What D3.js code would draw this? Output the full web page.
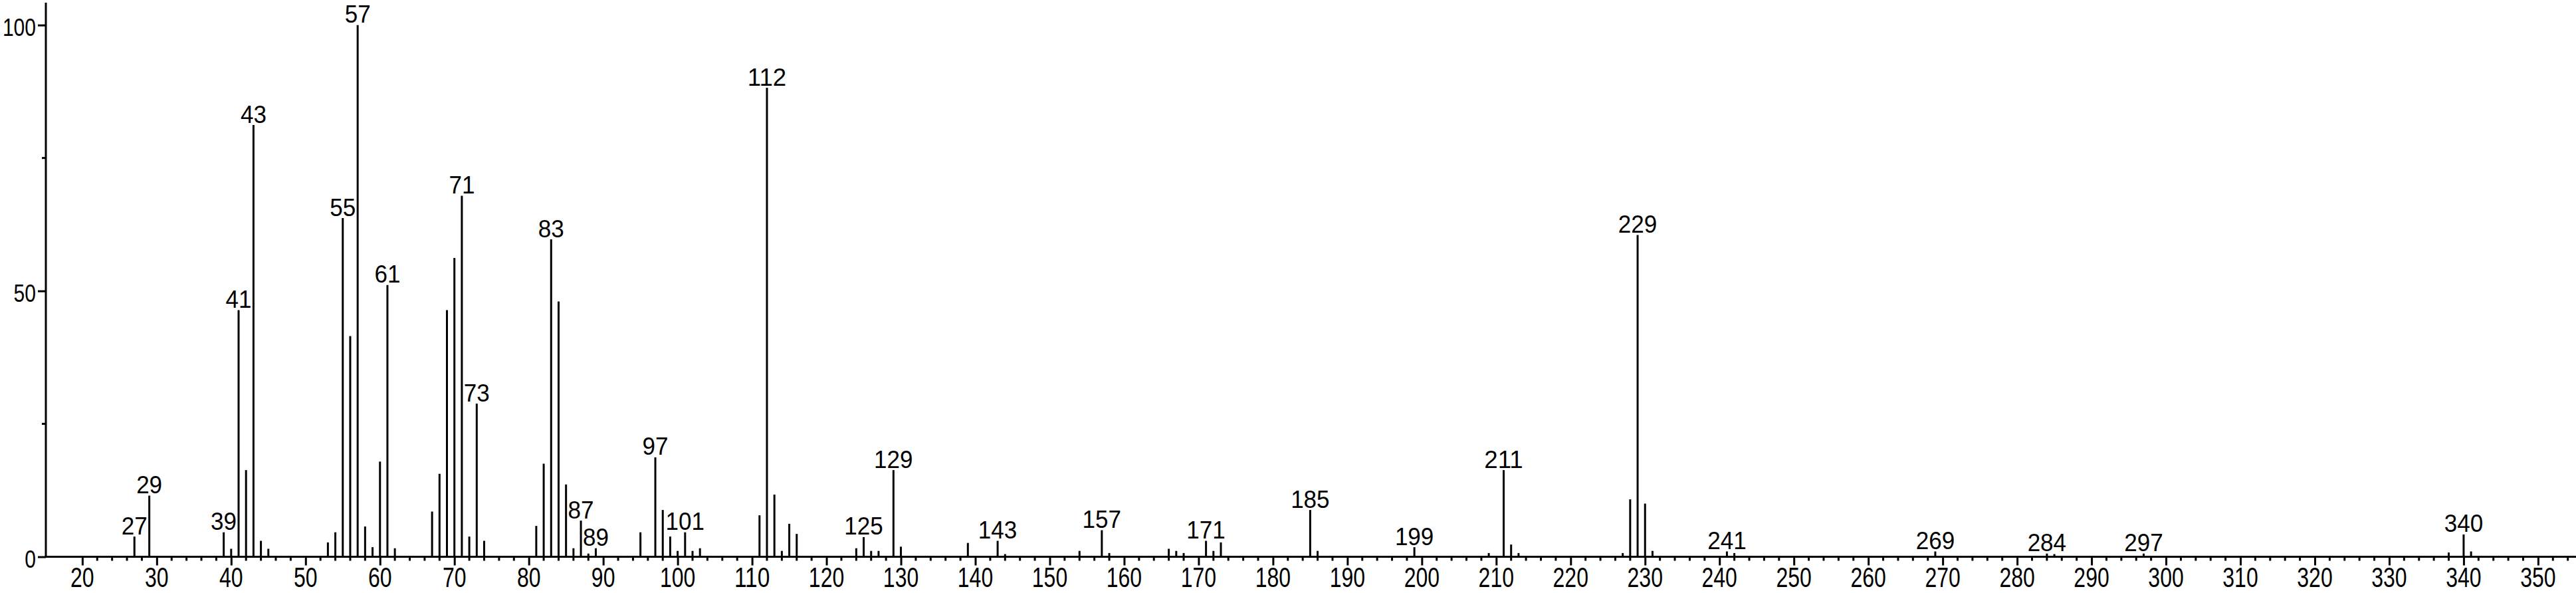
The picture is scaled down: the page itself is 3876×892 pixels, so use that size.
<!DOCTYPE html>
<html>
<head>
	<meta charset="utf-8">
	<title>Mass spectrum</title>
	<style type="text/css">
body {
	margin: 0;
	background: #fff;
}

text {
	font-family: "Liberation Sans", Arial, sans-serif;
	fill: #000;
}

.peaks line {
	stroke: #000;
	stroke-width: 3px;
}

.axis path,
.axis line {
	stroke: #000;
	stroke-width: 3px;
}
	</style>
</head>
<body>
	<svg id="chart" width="3876" height="892"></svg>

	<script src="https://d3js.org/d3.v7.min.js"></script>
	<script type="text/javascript">
		// m/z values and relative intensities (%)
		var mz = [27, 29, 39, 40, 41, 42, 43, 44, 45, 53, 54, 55, 56, 57, 58, 59, 60, 61, 62,
			67, 68, 69, 70, 71, 72, 73, 74, 81, 82, 83, 84, 85, 86, 87, 88, 89,
			95, 97, 98, 99, 100, 101, 102, 103, 111, 112, 113, 114, 115, 116,
			124, 125, 126, 127, 129, 130, 139, 143, 144, 154, 157, 158,
			166, 167, 168, 171, 172, 173, 185, 186, 199, 209, 211, 212, 213,
			227, 228, 229, 230, 231, 241, 242, 269, 284, 285, 297, 338, 340, 341]
		var intensity = [3.8, 11.5, 4.6, 1.5, 46.4, 16.3, 81.2, 3.0, 1.5, 2.7, 4.6, 63.7, 41.5, 100, 5.7, 1.8, 17.9, 51.1, 1.6,
			8.5, 15.6, 46.4, 56.2, 67.9, 3.8, 28.8, 3.0, 5.8, 17.5, 59.7, 48.0, 13.6, 1.6, 6.8, 0.6, 1.6,
			4.6, 18.7, 8.8, 3.8, 1.1, 4.6, 1.1, 1.6, 7.8, 88.2, 11.7, 1.1, 6.2, 4.3,
			1.6, 3.7, 1.1, 1.1, 16.3, 1.9, 2.6, 3.0, 0.5, 1.1, 5.0, 0.7,
			1.5, 1.1, 0.7, 3.0, 1.1, 2.7, 8.8, 1.1, 1.8, 0.7, 16.3, 2.3, 0.7,
			0.7, 10.8, 60.5, 10.0, 1.1, 1.0, 0.7, 1.0, 0.6, 0.5, 0.6, 0.8, 4.2, 1.0]

		// peaks that carry a m/z label
		var labelled = [27, 29, 39, 41, 43, 55, 57, 61, 71, 73, 83, 87, 89, 97, 101, 112, 125, 129,
			143, 157, 171, 185, 199, 211, 229, 241, 269, 284, 297, 340]

		var xMajorTicks = d3.range(20, 351, 10)
		var xMinorTicks = d3.range(22, 355, 2).filter(function (d) { return d % 10 != 0 })
		var yMajorTicks = [0, 50, 100]
		var yMinorTicks = [25, 75]

		var peaks = mz.map(function (m, i) {
			return { mz: m, value: intensity[i] }
		})

		var svg = d3.select("#chart"),
			width = +svg.attr("width"),
			height = +svg.attr("height");

		var x = d3.scaleLinear().domain([15.1, 355.1]).range([69, 3876]);
		var y = d3.scaleLinear().domain([0, 100]).range([837.5, 37.7]);

		// peaks
		svg.append("g")
				.attr("class", "peaks")
			.selectAll("line")
			.data(peaks)
			.enter().append("line")
				.attr("x1", function (d) { return x(d.mz); })
				.attr("x2", function (d) { return x(d.mz); })
				.attr("y1", y(0))
				.attr("y2", function (d) { return y(d.value); });

		// x axis: line, major and minor ticks
		var xAxis = svg.append("g")
			.attr("class", "axis")
			.attr("transform", "translate(0," + y(0) + ")");

		xAxis.call(d3.axisBottom(x)
			.tickValues(xMajorTicks)
			.tickSize(13)
			.tickSizeOuter(0)
			.tickFormat(""));

		xAxis.append("g")
				.attr("class", "minor")
			.selectAll("line")
			.data(xMinorTicks)
			.enter().append("line")
				.attr("x1", function (d) { return x(d); })
				.attr("x2", function (d) { return x(d); })
				.attr("y1", 0)
				.attr("y2", 6);

		// x axis line runs across the whole width
		xAxis.select(".domain")
			.attr("d", "M" + (x.range()[0] - 1.5) + ",0H" + width);

		// major tick labels, condensed like the original
		svg.append("g")
			.selectAll("text")
			.data(xMajorTicks)
			.enter().append("text")
				.attr("x", function (d) { return x(d); })
				.attr("y", 882.5)
				.attr("text-anchor", "middle")
				.attr("font-size", 42)
				.attr("textLength", function (d) { return String(d).length * 17.8; })
				.attr("lengthAdjust", "spacingAndGlyphs")
				.text(function (d) { return d; });

		// y axis
		var yAxis = svg.append("g")
			.attr("class", "axis")
			.attr("transform", "translate(" + x.range()[0] + ",0)");

		yAxis.call(d3.axisLeft(y)
			.tickValues(yMajorTicks)
			.tickSize(12)
			.tickSizeOuter(0)
			.tickFormat(""));

		// extend the y axis line to the top of the frame
		yAxis.select(".domain")
			.attr("d", "M0," + (y(0) + 1.5) + "V" + y(104.2));

		yAxis.append("g")
				.attr("class", "minor")
			.selectAll("line")
			.data(yMinorTicks)
			.enter().append("line")
				.attr("x1", -6)
				.attr("x2", 0)
				.attr("y1", function (d) { return y(d); })
				.attr("y2", function (d) { return y(d); });

		svg.append("g")
			.selectAll("text")
			.data(yMajorTicks)
			.enter().append("text")
				.attr("x", 54)
				.attr("y", function (d) { return y(d) + 16.5; })
				.attr("text-anchor", "end")
				.attr("font-size", 36)
				.attr("textLength", function (d) { return String(d).length * 16.7; })
				.attr("lengthAdjust", "spacingAndGlyphs")
				.text(function (d) { return d; });

		// peak labels
		svg.append("g")
			.selectAll("text")
			.data(peaks.filter(function (d) { return labelled.indexOf(d.mz) >= 0; }))
			.enter().append("text")
				.attr("x", function (d) { return x(d.mz); })
				.attr("y", function (d) { return y(d.value) - 3.5; })
				.attr("text-anchor", "middle")
				.attr("font-size", 36)
				.attr("textLength", function (d) { return String(d.mz).length * 19.5; })
				.attr("lengthAdjust", "spacingAndGlyphs")
				.text(function (d) { return d.mz; });
	</script>
</body>
</html>
